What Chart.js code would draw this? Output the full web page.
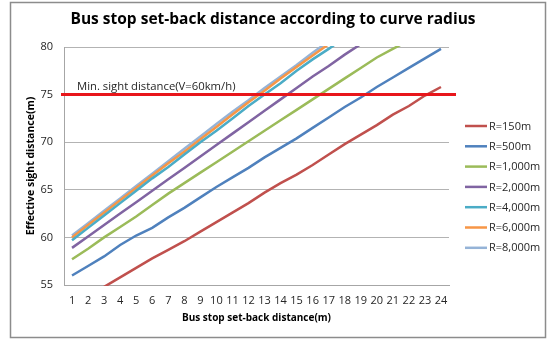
<!DOCTYPE html>
<html>
<head>
<meta charset="utf-8">
<script src="https://cdn.jsdelivr.net/npm/chart.js@4/dist/chart.umd.min.js"></script>
<style>
  html, body { margin: 0; padding: 0; background: #fff; }
  #wrap { width: 549px; height: 339px; }
</style>
</head>
<body>
<div id="wrap"><canvas id="chart-curve"></canvas></div>
<script>
const categories = ['1','2','3','4','5','6','7','8','9','10','11','12','13','14','15','16','17','18','19','20','21','22','23','24'];
const seriesLabels = ['R=150m', 'R=500m', 'R=1,000m', 'R=2,000m', 'R=4,000m', 'R=6,000m', 'R=8,000m'];
const seriesColors = ['#C0504D', '#4F81BD', '#9BBB59', '#8064A2', '#4BACC6', '#F79646', '#95B3D7'];

const r150  = [52.8, 53.8, 54.8, 55.8, 56.8, 57.8, 58.7, 59.6, 60.6, 61.6, 62.6, 63.6, 64.7, 65.7, 66.6, 67.6, 68.7, 69.8, 70.8, 71.8, 72.9, 73.8, 74.9, 75.8];
const r500  = [56.0, 57.0, 58.0, 59.2, 60.2, 61.0, 62.1, 63.1, 64.2, 65.3, 66.3, 67.3, 68.4, 69.4, 70.4, 71.5, 72.6, 73.7, 74.7, 75.8, 76.8, 77.8, 78.8, 79.8];
const r1000 = [57.7, 58.8, 60.0, 61.1, 62.2, 63.4, 64.6, 65.7, 66.8, 67.9, 69.0, 70.1, 71.2, 72.3, 73.4, 74.5, 75.6, 76.7, 77.8, 78.9, 79.8, 80.7, 81.7, 82.6];
const r2000 = [58.9, 60.1, 61.3, 62.5, 63.7, 64.9, 66.1, 67.3, 68.5, 69.7, 70.9, 72.1, 73.3, 74.5, 75.7, 76.9, 78.0, 79.2, 80.3, 81.4, 82.5, 83.6, 84.7, 85.8];
const r4000 = [59.7, 61.0, 62.3, 63.6, 64.9, 66.2, 67.4, 68.7, 70.0, 71.2, 72.5, 73.8, 75.0, 76.2, 77.5, 78.7, 79.8, 81.0, 82.2, 83.4, 84.6, 85.8, 87.0, 88.2];
const r6000 = [60.0, 61.3, 62.6, 63.9, 65.2, 66.5, 67.8, 69.0, 70.3, 71.6, 72.9, 74.2, 75.4, 76.7, 77.9, 79.1, 80.3, 81.5, 82.7, 83.9, 85.1, 86.3, 87.5, 88.7];
const r8000 = [60.2, 61.5, 62.8, 64.1, 65.4, 66.7, 68.0, 69.3, 70.6, 71.9, 73.2, 74.4, 75.7, 76.9, 78.1, 79.4, 80.6, 81.8, 83.0, 84.2, 85.4, 86.6, 87.8, 89.0];
const seriesValues = [r150, r500, r1000, r2000, r4000, r6000, r8000];

const minSight = 75;
const minSightLabel = 'Min. sight distance(V=60km/h)';
const chartTitle = 'Bus stop set-back distance according to curve radius';

const FONT = '"Open Sans", sans-serif';

// outer frame + title, like the office chart border
const framePlugin = {
  id: 'frame',
  beforeDraw(chart) {
    const c = chart.ctx;
    c.save();
    c.fillStyle = '#fff';
    c.fillRect(0, 0, chart.width, chart.height);
    c.strokeStyle = '#8c8c8c';
    c.lineWidth = 1.5;
    c.strokeRect(10.5, 2.5, 535, 335);
    c.fillStyle = '#000';
    c.font = 'bold 15.5px ' + FONT;
    c.textAlign = 'center';
    c.textBaseline = 'middle';
    c.fillText(chartTitle, 273, 20);
    c.restore();
  }
};

// red reference line for minimum sight distance
const minLinePlugin = {
  id: 'minLine',
  afterDatasetsDraw(chart) {
    const c = chart.ctx;
    const { left, right } = chart.chartArea;
    const y = chart.scales.y.getPixelForValue(minSight);
    c.save();
    c.strokeStyle = '#E8161B';
    c.lineWidth = 3;
    c.beginPath();
    c.moveTo(left - 3, y);
    c.lineTo(right + 7, y);
    c.stroke();
    c.fillStyle = '#262626';
    c.font = '11.3px ' + FONT;
    c.textBaseline = 'alphabetic';
    c.fillText(minSightLabel, left + 13, y - 5);
    c.restore();
  }
};

// legend on the right side
const sideLegend = {
  id: 'sideLegend',
  afterDraw(chart) {
    const c = chart.ctx;
    c.save();
    c.font = '11px ' + FONT;
    c.textBaseline = 'middle';
    chart.data.datasets.forEach((ds, i) => {
      const y = 126 + i * 20.3;
      c.strokeStyle = ds.borderColor;
      c.lineWidth = 2.5;
      c.beginPath();
      c.moveTo(465, y);
      c.lineTo(487, y);
      c.stroke();
      c.fillStyle = '#262626';
      c.fillText(ds.label, 489, y + 0.5);
    });
    c.restore();
  }
};

new Chart(document.getElementById('chart-curve'), {
  type: 'line',
  data: {
    labels: categories,
    datasets: seriesLabels.map((label, i) => ({
      label,
      data: seriesValues[i],
      borderColor: seriesColors[i],
      backgroundColor: seriesColors[i],
      borderWidth: 2.5,
      pointRadius: 0,
      tension: 0,
      clip: 1
    }))
  },
  options: {
    responsive: true,
    maintainAspectRatio: false,
    animation: false,
    layout: { padding: { left: 0, right: 100, top: 47, bottom: 8 } },
    plugins: {
      legend: { display: false },
      tooltip: { enabled: false },
      title: { display: false }
    },
    scales: {
      x: {
        offset: true,
        grid: { display: false, drawTicks: false },
        border: { display: true, color: '#a6a6a6', width: 1 },
        ticks: { color: '#262626', font: { family: FONT, size: 11 }, padding: 9, autoSkip: false, maxRotation: 0 },
        title: { display: true, text: 'Bus stop set-back distance(m)', color: '#000', font: { family: FONT, size: 10, weight: 'bold' }, padding: { top: 0, bottom: 7 } },
        afterFit(scale) { scale.height = 46; }
      },
      y: {
        min: 55,
        max: 80,
        ticks: { stepSize: 5, color: '#262626', font: { family: FONT, size: 11 }, padding: 11 },
        grid: { color: '#b3b3b3', lineWidth: 1, drawTicks: false },
        border: { display: true, color: '#a6a6a6', width: 1 },
        title: { display: true, text: 'Effective sight distance(m)', color: '#000', font: { family: FONT, size: 10.5, weight: 'bold' }, padding: { top: 25, bottom: 0 } },
        afterFit(scale) { scale.width = 64; }
      }
    }
  },
  plugins: [framePlugin, minLinePlugin, sideLegend]
});
</script>
</body>
</html>
